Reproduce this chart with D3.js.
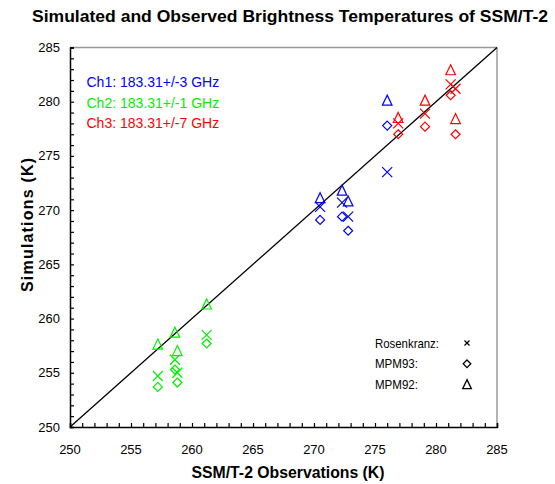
<!DOCTYPE html>
<html>
<head>
<meta charset="utf-8">
<script src="https://cdn.jsdelivr.net/npm/d3@7"></script>
<style>
  body { margin: 0; background: #fff; }
  text { font-family: Arial, "Liberation Sans", sans-serif; }
</style>
</head>
<body>
<svg id="chart" width="555" height="484"></svg>
<script>
// chart values
var channelLabels = ['Ch1: 183.31+/-3 GHz', 'Ch2: 183.31+/-1 GHz', 'Ch3: 183.31+/-7 GHz'];
var channelColors = ['#0000ff', '#00f000', '#ff0000'];

var ch1Obs    = [270.5, 272.3, 272.8, 276.0];
var ch1Ros    = [270.3, 270.7, 269.4, 273.5];
var ch1Mpm93  = [269.1, 269.4, 268.1, 277.8];
var ch1Mpm92  = [271.1, 271.8, 270.8, 280.1];

var ch2Obs    = [257.2, 258.6, 258.8, 261.2];
var ch2Ros    = [254.7, 256.2, 255.0, 258.5];
var ch2Mpm93  = [253.7, 255.3, 254.1, 257.7];
var ch2Mpm92  = [257.6, 258.7, 257.0, 261.3];

var ch3Obs    = [276.9, 279.1, 281.2, 281.6];
var ch3Ros    = [278.0, 278.9, 281.6, 281.2];
var ch3Mpm93  = [277.0, 277.7, 280.6, 277.0];
var ch3Mpm92  = [278.5, 280.1, 282.9, 278.4];

var models = ['Rosenkranz', 'MPM93', 'MPM92'];
var legendLabels = ['Rosenkranz:', 'MPM93:', 'MPM92:'];
var domain = [250, 285];
var tickValues = [250, 255, 260, 265, 270, 275, 280, 285];

var svg = d3.select('#chart');
var margin = {left: 70, top: 47.5, right: 58, bottom: 57};
var width = 555 - margin.left - margin.right;
var height = 484 - margin.top - margin.bottom;

var x = d3.scaleLinear().domain(domain).range([margin.left, margin.left + width]);
var y = d3.scaleLinear().domain(domain).range([margin.top + height, margin.top]);

// flatten into points
var sims = [
    [ch1Ros, ch1Mpm93, ch1Mpm92],
    [ch2Ros, ch2Mpm93, ch2Mpm92],
    [ch3Ros, ch3Mpm93, ch3Mpm92]
];
var obs = [ch1Obs, ch2Obs, ch3Obs];
var points = [];
obs.forEach(function(o, c) {
    models.forEach(function(m, mi) {
        o.forEach(function(v, i) {
            points.push({obs: v, sim: sims[c][mi][i], model: m, color: channelColors[c]});
        });
    });
});

function markerPath(model, s) {
    s = s || 1;
    var p = d3.path();
    if (model === 'Rosenkranz') {
        p.moveTo(-5 * s, -5 * s); p.lineTo(5 * s, 5 * s);
        p.moveTo(-5 * s, 5 * s); p.lineTo(5 * s, -5 * s);
    } else if (model === 'MPM93') {
        p.moveTo(0, -4.5 * s); p.lineTo(4.5 * s, 0); p.lineTo(0, 4.5 * s); p.lineTo(-4.5 * s, 0); p.closePath();
    } else {
        p.moveTo(0, -5.5 * s); p.lineTo(4.8 * s, 4.5 * s); p.lineTo(-4.8 * s, 4.5 * s); p.closePath();
    }
    return p.toString();
}

// frame: top/right grey, left/bottom black
svg.append('line')
    .attr('x1', x(domain[0])).attr('x2', x(domain[1]))
    .attr('y1', y(domain[1])).attr('y2', y(domain[1]))
    .attr('stroke', '#999').attr('stroke-width', 1.5);
svg.append('line')
    .attr('x1', x(domain[1])).attr('x2', x(domain[1]))
    .attr('y1', y(domain[0])).attr('y2', y(domain[1]))
    .attr('stroke', '#999').attr('stroke-width', 1.5);

// one-to-one line
svg.append('line')
    .attr('x1', x(domain[0])).attr('y1', y(domain[0]))
    .attr('x2', x(domain[1])).attr('y2', y(domain[1]))
    .attr('stroke', '#000').attr('stroke-width', 1.3);

// axes with minor ticks pointing inward
var minor = d3.range(domain[0], domain[1] + 1, 1);
var xAxis = svg.append('g')
    .attr('transform', 'translate(0,' + y(domain[0]) + ')')
    .call(d3.axisTop(x).tickValues(minor).tickSize(4).tickFormat(''));
var yAxis = svg.append('g')
    .attr('transform', 'translate(' + x(domain[0]) + ',0)')
    .call(d3.axisRight(y).tickValues(minor).tickSize(4).tickFormat(''));
[xAxis, yAxis].forEach(function(a) {
    a.select('.domain').attr('stroke', '#000').attr('stroke-width', 1.5);
    a.selectAll('.tick line').attr('stroke', '#000').attr('stroke-width', 1.2);
});

svg.append('g').selectAll('text')
    .data(tickValues)
  .enter().append('text')
    .attr('x', function(d) { return x(d); })
    .attr('y', y(domain[0]) + 27)
    .attr('text-anchor', 'middle')
    .attr('font-size', 13)
    .text(function(d) { return d; });

svg.append('g').selectAll('text')
    .data(tickValues)
  .enter().append('text')
    .attr('x', x(domain[0]) - 10)
    .attr('y', function(d) { return y(d) + 4.5; })
    .attr('text-anchor', 'end')
    .attr('font-size', 13)
    .text(function(d) { return d; });

// markers
svg.append('g').selectAll('path')
    .data(points)
  .enter().append('path')
    .attr('d', function(d) { return markerPath(d.model); })
    .attr('transform', function(d) { return 'translate(' + x(d.obs) + ',' + y(d.sim) + ')'; })
    .attr('fill', 'none')
    .attr('stroke', function(d) { return d.color; })
    .attr('stroke-width', 1.2);

// channel legend
svg.append('g').selectAll('text')
    .data(channelLabels)
  .enter().append('text')
    .attr('x', 86.5)
    .attr('y', function(d, i) { return 87 + i * 20.7; })
    .attr('font-size', 14)
    .attr('fill', function(d, i) { return channelColors[i]; })
    .text(function(d) { return d; });

// model legend
var leg = svg.append('g');
leg.selectAll('.lab')
    .data(legendLabels)
  .enter().append('text')
    .attr('class', 'lab')
    .attr('x', 375)
    .attr('y', function(d, i) { return 347.5 + i * 20.8; })
    .attr('font-size', 13.5)
    .attr('textLength', function(d, i) { return [64, 43, 43][i]; })
    .attr('lengthAdjust', 'spacingAndGlyphs')
    .text(function(d) { return d; });
leg.selectAll('.glyph')
    .data(models)
  .enter().append('path')
    .attr('class', 'glyph')
    .attr('d', function(d, i) { return markerPath(d, [0.5, 0.85, 0.9][i]); })
    .attr('transform', function(d, i) { return 'translate(467,' + (343 + i * 20.8) + ')'; })
    .attr('fill', 'none')
    .attr('stroke', '#000')
    .attr('stroke-width', 1.3);

// titles
svg.append('text')
    .attr('x', 290).attr('y', 22)
    .attr('text-anchor', 'middle')
    .attr('font-size', 16).attr('font-weight', 'bold')
    .attr('textLength', 516).attr('lengthAdjust', 'spacingAndGlyphs')
    .text('Simulated and Observed Brightness Temperatures of SSM/T-2');

svg.append('text')
    .attr('x', 288).attr('y', 478)
    .attr('text-anchor', 'middle')
    .attr('font-size', 16).attr('font-weight', 'bold')
    .attr('textLength', 193).attr('lengthAdjust', 'spacingAndGlyphs')
    .text('SSM/T-2 Observations (K)');

svg.append('text')
    .attr('transform', 'translate(33,225)rotate(-90)')
    .attr('text-anchor', 'middle')
    .attr('font-size', 16).attr('font-weight', 'bold')
    .attr('textLength', 134).attr('lengthAdjust', 'spacing')
    .text('Simulations (K)');
</script>
</body>
</html>
